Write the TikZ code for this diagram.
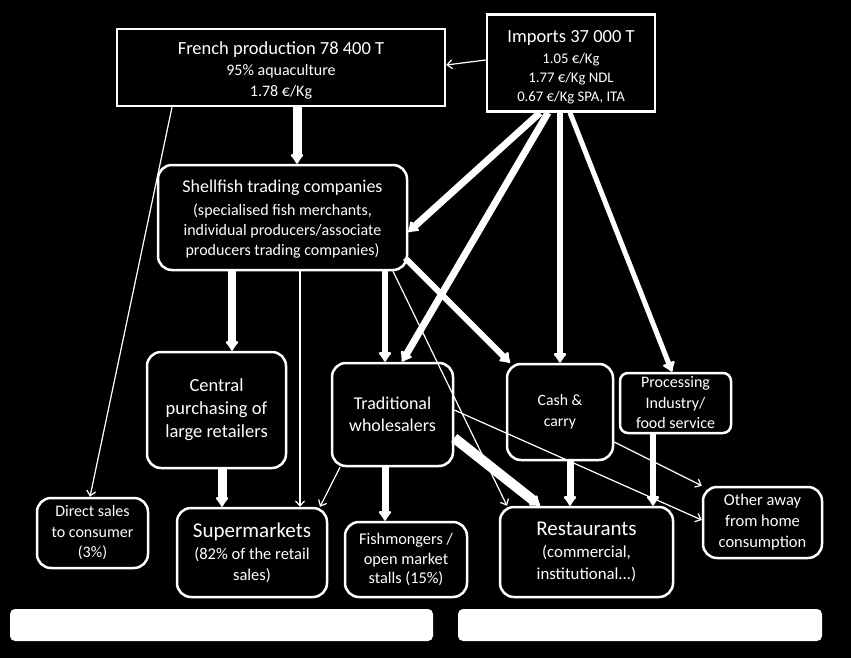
\documentclass[tikz,border=0pt]{standalone}
\usepackage{fontspec}
\setmainfont{Carlito}
\usetikzlibrary{arrows.meta}
\newcommand{\fsz}[2]{\fontsize{#1}{#2}\selectfont}

\begin{document}
\begin{tikzpicture}[x=1pt,y=-1pt,
  box/.style={draw=white,line width=2.5pt,fill=black,text=white,align=center,inner sep=0pt,rounded corners=14pt},
  flat/.style={box,rounded corners=0pt},
  bar/.style={fill=white,rounded corners=5pt,inner sep=0pt},
  major/.style={draw=white,line width=#1,-{Latex[round,length=11pt,width=16pt]}},
  minor/.style={draw=white,line width=1.2pt,-{Straight Barb[length=5pt,width=9pt]}}]
  \fill[black] (0,0) rectangle (851,658);
  \useasboundingbox (0,0) rectangle (851,658);

  \node[flat,minimum width=328pt,minimum height=77pt,font=\fsz{16}{21}] (french) at (281,67.5)
    {\rule{0pt}{18pt}{\fsz{18.5}{21}French production 78 400 T}\\95\% aquaculture\\1.78 €/Kg};
  \node[flat,minimum width=168pt,minimum height=97pt,font=\fsz{14.7}{19}] (imports) at (571,63)
    {\rule{0pt}{20pt}{\fsz{18.5}{21}Imports 37 000 T}\\[2pt]1.05 €/Kg\\1.77 €/Kg NDL\\0.67 €/Kg SPA, ITA};
  \node[box,minimum width=249pt,minimum height=105pt,font=\fsz{16}{20}] (shellfish) at (282.5,217.5)
    {\rule{0pt}{16pt}{\fsz{18}{21}Shellfish trading companies}\\[3pt](specialised fish merchants,\\individual producers/associate\\producers trading companies)};
  \node[box,minimum width=139pt,minimum height=116pt,font=\fsz{18.5}{23}] (central) at (216.5,410)
    {Central\\purchasing of\\large retailers};
  \node[box,minimum width=121pt,minimum height=103pt,font=\fsz{18}{22}] (trad) at (392.5,414.5)
    {Traditional\\wholesalers};
  \node[box,minimum width=106pt,minimum height=96pt,font=\fsz{15.7}{20.5}] (cash) at (560,412)
    {Cash \&\\carry};
  \node[box,rounded corners=8pt,minimum width=111pt,minimum height=60pt,font=\fsz{16}{20.5}] (proc) at (675.5,403)
    {Processing\\Industry/\\food service};
  \node[box,minimum width=111pt,minimum height=70pt,font=\fsz{16}{20.5}] (direct) at (92.5,533)
    {Direct sales\\to consumer\\(3\%)};
  \node[box,minimum width=150pt,minimum height=89pt,font=\fsz{16.5}{21}] (super) at (252,552.5)
    {{\fsz{21}{22}Supermarkets}\\[1pt](82\% of the retail\\sales)};
  \node[box,minimum width=122pt,minimum height=75pt,font=\fsz{16.3}{19.5}] (fish) at (406,559.5)
    {Fishmongers /\\open market\\stalls (15\%)};
  \node[box,minimum width=173pt,minimum height=90pt,font=\fsz{16.8}{22}] (rest) at (586.5,552)
    {{\fsz{21}{22}Restaurants}\\(commercial,\\institutional...)};
  \node[box,minimum width=119pt,minimum height=71pt,font=\fsz{16.5}{21}] (other) at (762.5,522.5)
    {Other away\\from home\\consumption};
  \node[bar,minimum width=423pt,minimum height=32pt] (leftbar) at (221.5,625) {};
  \node[bar,minimum width=364pt,minimum height=32pt] (rightbar) at (640,625) {};

  \draw[minor] (imports.west |- 0,60) -- (french.east |- 0,65);
  \draw[minor] (172,0 |- french.south) -- (90,0 |- direct.north);
  \draw[minor] (300,0 |- shellfish.south) -- (300,0 |- super.north);
  \draw[minor] (340,0 |- trad.south) -- (320,0 |- super.north);
  \draw[minor] (393,0 |- shellfish.south) -- (507,0 |- rest.north);
  \draw[minor] (trad.east |- 0,410) -- (other.west |- 0,520);
  \draw[minor] (cash.east |- 0,442) -- (other.north west);

  \draw[major=9pt] (297,0 |- french.south) -- (297,0 |- shellfish.north);
  \draw[major=7pt] (540,0 |- imports.south) -- (shellfish.east |- 0,232);
  \draw[major=7pt] (548,0 |- imports.south) -- (402,0 |- trad.north);
  \draw[major=6pt] (560,0 |- imports.south) -- (cash.north);
  \draw[major=5pt] (570,0 |- imports.south) -- (672,0 |- proc.north);
  \draw[major=6pt] (405,258) -- (510,0 |- cash.north);
  \draw[major=8pt] (232,0 |- shellfish.south) -- (232,0 |- central.north);
  \draw[major=6pt] (385,0 |- shellfish.south) -- (385,0 |- trad.north);
  \draw[major=9pt] (222,0 |- central.south) -- (222,0 |- super.north);
  \draw[major=7pt] (385,0 |- trad.south) -- (385,0 |- fish.north);
  \draw[major=10pt] (trad.east |- 0,438) -- (540,0 |- rest.north);
  \draw[major=7pt] (570,0 |- cash.south) -- (570,0 |- rest.north);
  \draw[major=6pt] (653,0 |- proc.south) -- (653,0 |- rest.north);
\end{tikzpicture}
\end{document}
